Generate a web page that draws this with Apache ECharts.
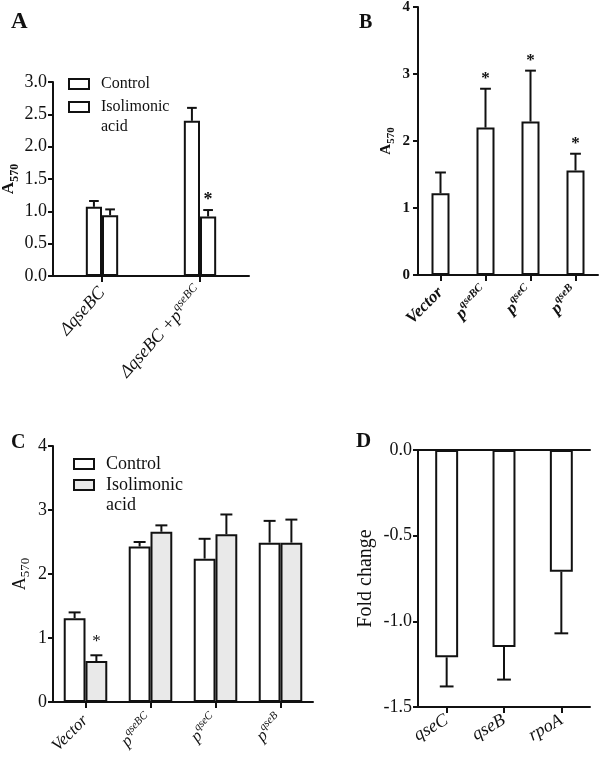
<!DOCTYPE html>
<html><head><meta charset="utf-8">
<script src="https://cdn.jsdelivr.net/npm/echarts@6/dist/echarts.min.js"></script>
<style>html,body{margin:0;padding:0;background:#fff}#c{width:600px;height:761px}</style>
</head><body><div id="c"></div>
<script>
// ---- data ----
const catsA = ['ΔqseBC', 'ΔqseBC +p^qseBC'];
const ctrlA = [1.07, 2.40];
const ctrlAErr = [0.09, 0.20];
const isoA = [0.94, 0.92];
const isoAErr = [0.09, 0.10];
const isoAStar = [0, 1];

const catsB = ['Vector', 'p^qseBC', 'p^qseC', 'p^qseB'];
const valsB = [1.22, 2.20, 2.29, 1.56];
const errB = [0.31, 0.58, 0.76, 0.25];
const starB = [0, 1, 1, 1];

const catsC = ['Vector', 'p^qseBC', 'p^qseC', 'p^qseB'];
const ctrlC = [1.31, 2.43, 2.24, 2.49];
const ctrlCErr = [0.09, 0.07, 0.31, 0.34];
const isoC = [0.64, 2.66, 2.62, 2.49];
const isoCErr = [0.09, 0.10, 0.31, 0.36];
const isoCStar = [1, 0, 0, 0];

const catsD = ['qseC', 'qseB', 'rpoA'];
const valsD = [-1.21, -1.15, -0.71];
const errD = [0.17, 0.19, 0.36];

// ---- styles ----
const FONT = '"Liberation Serif", "Times New Roman", serif';
const INK = '#111';
const GRAY = '#e9e9e9';

function fmtCat(s) {
  if (s.indexOf('^') >= 0) { const p = s.split('^'); return '{i|' + p[0] + '}{sup|' + p[1] + '}'; }
  return '{i|' + s + '}';
}
function catRich(size, weight) {
  return {
    i: {fontFamily: FONT, fontStyle: 'italic', fontWeight: weight, fontSize: size, color: INK, lineHeight: size, verticalAlign: 'bottom'},
    sup: {fontFamily: FONT, fontStyle: 'italic', fontWeight: weight, fontSize: Math.round(size * 0.66), color: INK, lineHeight: Math.round(size * 0.66), padding: [0, 0, Math.round(size * 0.5), 0], verticalAlign: 'bottom'}
  };
}
function subRich(size, weight) {
  return {
    a: {fontFamily: FONT, fontWeight: weight, fontSize: size, color: INK, lineHeight: size, verticalAlign: 'top'},
    s: {fontFamily: FONT, fontWeight: weight, fontSize: Math.round(size * 0.72), color: INK, lineHeight: Math.round(size * 0.72), padding: [Math.round(size * 0.45), 0, 0, 0], verticalAlign: 'top'}
  };
}
const axisLine = {show: true, lineStyle: {color: INK, width: 2}};
const tickOut = {show: true, length: 5, inside: false, lineStyle: {color: INK, width: 2}};

function xCat(grid, cats, size, weight, rotate, margin) {
  return {
    type: 'category', gridIndex: grid, data: cats, boundaryGap: true,
    axisLine: {show: true, onZero: false, lineStyle: {color: INK, width: 2}},
    axisTick: {show: true, alignWithLabel: true, length: 6, lineStyle: {color: INK, width: 2}},
    axisLabel: {rotate: rotate, margin: margin, interval: 0, formatter: fmtCat, rich: catRich(size, weight)},
    splitLine: {show: false}
  };
}
function yVal(grid, min, max, interval, dec, size, weight, margin, name, nameRich, nameGap, nameStyle) {
  const o = {
    type: 'value', gridIndex: grid, min: min, max: max, interval: interval,
    axisLine: axisLine, axisTick: tickOut,
    axisLabel: {margin: margin, fontFamily: FONT, fontSize: size, fontWeight: weight, color: INK,
      formatter: v => v.toFixed(dec)},
    splitLine: {show: false},
    name: name, nameLocation: 'middle', nameRotate: 90, nameGap: nameGap
  };
  o.nameTextStyle = nameStyle || {rich: nameRich};
  return o;
}

function errRender(offsetFrac, widthFrac, capFrac, starSize, starWeight, starGap) {
  return function (params, api) {
    const i = api.value(0), v = api.value(1), e = api.value(2), star = api.value(3);
    const base = api.coord([i, v]);
    const end = api.coord([i, e]);
    const band = api.size([1, 0])[0];
    const bw = band * widthFrac;
    const cx = base[0] + offsetFrac * bw;
    const half = bw * capFrac / 2;
    const children = [
      {type: 'line', shape: {x1: cx, y1: base[1], x2: cx, y2: end[1]}, style: {stroke: INK, lineWidth: 2}},
      {type: 'line', shape: {x1: cx - half, y1: end[1], x2: cx + half, y2: end[1]}, style: {stroke: INK, lineWidth: 2}}
    ];
    if (star) {
      children.push({type: 'text', style: {text: '*', x: cx, y: end[1] - starGap, align: 'center', verticalAlign: 'middle',
        font: starWeight + ' ' + starSize + 'px ' + FONT, fill: INK}});
    }
    return {type: 'group', children: children};
  };
}
function errData(vals, errs, stars, sign) {
  return vals.map((v, i) => [i, v, v + sign * errs[i], stars ? stars[i] : 0]);
}
function barSeries(name, x, y, data, fill, gap) {
  return {type: 'bar', name: name, xAxisIndex: x, yAxisIndex: y, data: data, barGap: '0%', barCategoryGap: gap,
    itemStyle: {color: fill, borderColor: INK, borderWidth: 2}, emphasis: {disabled: true}, silent: true, animation: false};
}
function errSeries(x, y, data, render) {
  return {type: 'custom', xAxisIndex: x, yAxisIndex: y, data: data, renderItem: render, z: 5, silent: true, animation: false,
    encode: {x: 0, y: [1, 2]}};
}
function legendOne(name, left, top, fill, size) {
  return {
    show: true, selectedMode: false, orient: 'vertical', left: left, top: top, padding: 0,
    itemWidth: 20, itemHeight: 10, icon: 'rect',
    formatter: n => n === 'Isolimonic acid' ? ' \nIsolimonic\nacid' : n,
    data: [{name: name, itemStyle: {color: fill, borderColor: INK, borderWidth: 2},
      textStyle: {fontFamily: FONT, fontSize: size, color: INK, lineHeight: 20, padding: [0, 0, 0, 7]}}]
  };
}
function panelTitle(t, left, top, size) {
  return {text: t, left: left, top: top, padding: 0, textStyle: {fontFamily: FONT, fontWeight: 'bold', fontSize: size, color: INK}};
}

const option = {
  animation: false,
  backgroundColor: '#fff',
  title: [
    panelTitle('A', 11, 11, 23),
    panelTitle('B', 359, 13, 20),
    panelTitle('C', 11, 433, 20),
    panelTitle('D', 356, 431, 21)
  ],
  legend: [
    legendOne('Control', 68, 74, '#fff', 16),
    legendOne('Isolimonic acid', 68, 77, '#fff', 16),
    legendOne('Control', 73, 454, '#fff', 18),
    legendOne('Isolimonic acid', 73, 455, GRAY, 18)
  ],
  grid: [
    {left: 53, top: 82, width: 196, height: 194, containLabel: false, outerBoundsMode: 'none'},
    {left: 418, top: 7, width: 180, height: 268, containLabel: false, outerBoundsMode: 'none'},
    {left: 53, top: 446, width: 260, height: 256, containLabel: false, outerBoundsMode: 'none'},
    {left: 418, top: 450, width: 172, height: 257, containLabel: false, outerBoundsMode: 'none'}
  ],
  xAxis: [
    xCat(0, catsA, 18, 'normal', 48, 14),
    xCat(1, catsB, 17, 'bold', 45, 15),
    xCat(2, catsC, 17, 'normal', 45, 16),
    xCat(3, catsD, 18, 'normal', 30, 12),
    {type: 'category', gridIndex: 3, data: catsD, position: 'top',
      axisLine: {show: true, onZero: false, lineStyle: {color: INK, width: 2}},
      axisTick: {show: false}, axisLabel: {show: false}, splitLine: {show: false}}
  ],
  yAxis: [
    yVal(0, 0, 3, 0.5, 1, 18, 'normal', 6, '{a|A}{s|570}', subRich(17, 'bold'), 28),
    yVal(1, 0, 4, 1, 0, 15, 'bold', 8, '{a|A}{s|570}', subRich(15, 'bold'), 24),
    yVal(2, 0, 4, 1, 0, 18, 'normal', 6, '{a|A}{s|570}', subRich(18, 'normal'), 24),
    yVal(3, -1.5, 0, 0.5, 1, 18, 'normal', 6, 'Fold change', null, 42,
      {fontFamily: FONT, fontSize: 20, color: INK})
  ],
  series: [
    barSeries('Control', 0, 0, ctrlA, '#fff', '67%'),
    barSeries('Isolimonic acid', 0, 0, isoA, '#fff', '67%'),
    errSeries(0, 0, errData(ctrlA, ctrlAErr, null, 1), errRender(-0.5, 0.165, 0.6, 18, 'bold', 12)),
    errSeries(0, 0, errData(isoA, isoAErr, isoAStar, 1), errRender(0.5, 0.165, 0.6, 18, 'bold', 10)),

    barSeries('B', 1, 1, valsB, '#fff', '60%'),
    errSeries(1, 1, errData(valsB, errB, starB, 1), errRender(0, 0.4, 0.6, 17, 'bold', 10)),

    barSeries('Control', 2, 2, ctrlC, '#fff', '33%'),
    barSeries('Isolimonic acid', 2, 2, isoC, GRAY, '33%'),
    errSeries(2, 2, errData(ctrlC, ctrlCErr, null, 1), errRender(-0.5, 0.335, 0.55, 17, 'normal', 14)),
    errSeries(2, 2, errData(isoC, isoCErr, isoCStar, 1), errRender(0.5, 0.335, 0.55, 17, 'normal', 14)),

    barSeries('D', 3, 3, valsD, '#fff', '60%'),
    errSeries(3, 3, errData(valsD, errD, null, -1), errRender(0, 0.4, 0.6, 17, 'normal', 10))
  ]
};
const chart = echarts.init(document.getElementById('c'), null, {renderer: 'canvas'});
chart.setOption(option);
</script></body></html>
